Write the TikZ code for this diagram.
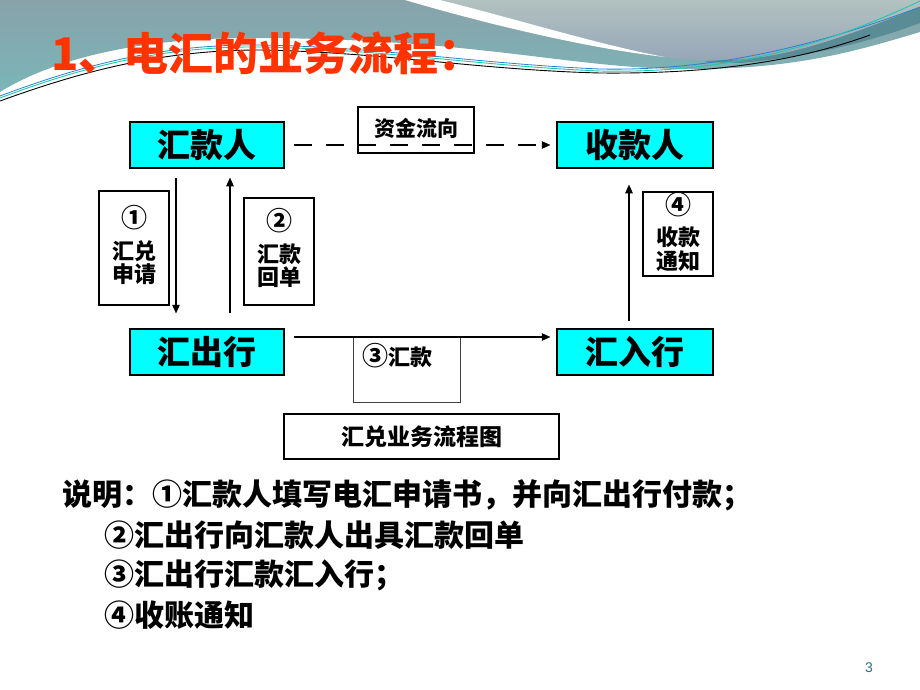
\documentclass[tikz,border=0pt]{standalone}
\usepackage{fontspec}
\setmainfont{Liberation Sans}
\newfontfamily\cjk{Noto Sans CJK SC}
\usetikzlibrary{arrows.meta,calc}
\definecolor{boxcyan}{HTML}{00FFFF}
\definecolor{titlered}{HTML}{FF3300}
\definecolor{tealA}{HTML}{88A2AA}
\definecolor{tealB}{HTML}{7AB6B8}
\definecolor{grayA}{HTML}{B2C2C0}
\definecolor{grayB}{HTML}{96A6B8}
\definecolor{tealDark}{HTML}{5A8C96}
\definecolor{lineCyan}{HTML}{20C8B0}
\definecolor{lineBlue}{HTML}{2A80D0}
\definecolor{pagenum}{HTML}{2A7090}
\newcommand{\circnum}[1]{{\fontsize{26}{26}\selectfont #1}}
\tikzset{
  mainbox/.style={draw=black, line width=2.5pt, fill=boxcyan, minimum width=154pt, minimum height=46pt, inner sep=0pt, font=\cjk\bfseries\fontsize{33}{36}\selectfont},
  smallbox/.style={draw=black, line width=2.5pt, fill=white, minimum width=70pt, inner sep=0pt},
  thinbox/.style={draw=black!75, line width=0.9pt, inner sep=0pt},
  plainbox/.style={draw=black, line width=2.5pt, fill=white, inner sep=0pt},
  lbl/.style={inner sep=0pt, font=\cjk\bfseries\fontsize{22}{23}\selectfont},
  lblb/.style={inner sep=0pt, font=\cjk\bfseries\fontsize{22}{24}\selectfont},
  flowarrow/.style={line width=2.5pt, -{Triangle[length=9pt,width=7pt]}},
  dasharrow/.style={line width=2.5pt, dash pattern=on 18pt off 14pt, -{Triangle[length=9pt,width=7pt]}},
  note/.style={anchor=west, inner sep=0pt, font=\cjk\bfseries\fontsize{30}{34}\selectfont}
}
\begin{document}
\begin{tikzpicture}[x=1pt,y=-1pt]
\useasboundingbox (0,0) rectangle (920,690);
\fill[white] (0,0) rectangle (920,690);
% ---- banner ----
\shade[top color=tealA, bottom color=tealB]
  (0,0) -- (920,0) -- (920,32)
  .. controls (860,50) and (800,68) .. (700,69)
  .. controls (620,70) and (560,58) .. (460,48)
  .. controls (400,42) and (330,38) .. (250,38)
  .. controls (150,38) and (60,55) .. (0,92) -- cycle;
\shade[top color=grayA, bottom color=grayB]
  (440,0) -- (920,0) -- (920,7)
  .. controls (850,35) and (790,58) .. (730,60)
  .. controls (700,61) and (680,59) .. (665,57)
  .. controls (600,45) and (520,20) .. (440,0) -- cycle;
\fill[white] (405,0) -- (440,0)
  .. controls (520,20) and (600,45) .. (665,57)
  .. controls (600,50) and (500,28) .. (405,0) -- cycle;
\fill[tealDark] (920,7)
  .. controls (850,35) and (790,58) .. (730,60)
  .. controls (700,61) and (690,62) .. (740,63)
  .. controls (820,56) and (880,38) .. (920,23) -- cycle;
\draw[black, line width=0.9pt] (0,101) .. controls (80,72) and (160,50) .. (260,50)
  .. controls (380,52) and (480,70) .. (600,73)
  .. controls (700,74) and (790,64) .. (870,35);
\draw[lineBlue, line width=0.8pt] (0,96) .. controls (80,66) and (160,44) .. (260,45)
  .. controls (380,47) and (480,64) .. (600,69)
  .. controls (700,71) and (800,52) .. (920,7);
\draw[lineCyan, line width=0.9pt] (0,98) .. controls (80,68) and (160,46) .. (260,47)
  .. controls (380,49) and (480,66) .. (600,71)
  .. controls (700,73) and (800,58) .. (920,1);
% ---- title ----
\node[anchor=west, inner sep=0pt, text=titlered, font=\cjk\bfseries\fontsize{45}{50}\selectfont] (title) at (51,53) {1、电汇的业务流程：};
% ---- boxes ----
\node[mainbox] (payer) at (207,145) {汇款人};
\node[mainbox, minimum width=156pt] (payee) at (635,145) {收款人};
\node[mainbox] (outbank) at (207,352) {汇出行};
\node[mainbox, minimum width=156pt] (inbank) at (635,352) {汇入行};
\node[plainbox, minimum width=116pt, minimum height=46pt] (fund) at (416,130) {};
\node[lblb, font=\cjk\bfseries\fontsize{21}{22}\selectfont] (fundtxt) at (416,128) {资金流向};
\node[smallbox, minimum height=114pt] (box1) at (134,248) {};
\node[smallbox, minimum height=107pt] (box2) at (279,251.5) {};
\node[smallbox, minimum height=84pt] (box4) at (678,234) {};
\node[thinbox, minimum width=107pt, minimum height=65pt] (box3) at (406.5,369.5) {};
\node[plainbox, minimum width=275pt, minimum height=45pt] (caption) at (421.5,436.5) {};
\node[lblb, font=\cjk\bfseries\fontsize{23}{24}\selectfont] (captxt) at (421.5,437) {汇兑业务流程图};
% labels
\node[lbl] (n1) at (134,218) {\circnum{①}};
\node[lbl] (t1a) at (134,251) {汇兑};
\node[lbl] (t1b) at (134,274) {申请};
\node[lbl] (n2) at (279,221) {\circnum{②}};
\node[lbl] (t2a) at (279,254) {汇款};
\node[lbl] (t2b) at (279,277) {回单};
\node[lbl] (n4) at (678,205) {\circnum{④}};
\node[lbl] (t4a) at (678,237) {收款};
\node[lbl] (t4b) at (678,261) {通知};
\node[lblb] (t3) at (397,356) {\circnum{③}汇款};
% ---- arrows ----
\draw[dasharrow] ($(payer.east)+(9,0)$) -- ($(payee.west)+(-5,0)$);
\draw[flowarrow] ($(payer.south)+(-31,9)$) -- ($(outbank.north)+(-31,-14)$);
\draw[flowarrow] ($(outbank.north)+(23,-15)$) -- ($(payer.south)+(23,8)$);
\draw[flowarrow] ($(inbank.north)+(-6,-7)$) -- ($(payee.south)+(-6,15)$);
\draw[flowarrow] ($(outbank.east)+(9,-15)$) -- ($(inbank.west)+(-5,-15)$);
% ---- notes ----
\node[note] (l1) at (62,495) {说明：①汇款人填写电汇申请书，并向汇出行付款；};
\node[note] (l2) at (104,535) {②汇出行向汇款人出具汇款回单};
\node[note] (l3) at (104,575) {③汇出行汇款汇入行；};
\node[note] (l4) at (104,615) {④收账通知};
\node[inner sep=0pt, text=pagenum, font=\fontsize{14}{16}\selectfont] (pg) at (869,668) {3};
\end{tikzpicture}
\end{document}
